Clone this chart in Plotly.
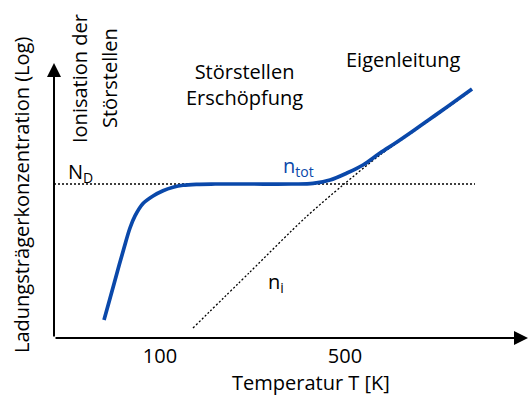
import plotly.graph_objects as go

# Schematic: carrier concentration (log) versus temperature.
# Horizontal / vertical values are in arbitrary schematic units (0..10).

# total carrier concentration n_tot
t_tot = [1.055, 1.181, 1.329, 1.477, 1.603, 1.709, 1.878, 2.089, 2.300, 2.511,
         2.722, 3.017, 3.397, 4.135, 5.000, 5.464, 5.823, 6.181, 6.519, 6.878,
         7.236, 7.574, 7.932, 8.291, 8.819]
n_tot = [0.655, 1.436, 2.364, 3.273, 4.000, 4.440, 4.891, 5.164, 5.356, 5.480,
         5.553, 5.589, 5.600, 5.600, 5.600, 5.620, 5.745, 6.000, 6.291, 6.727,
         7.127, 7.527, 7.964, 8.400, 9.055]

# intrinsic concentration n_i
t_i = [2.932, 4.135, 5.295, 6.097, 6.878, 7.574, 8.291, 8.819]
n_i = [0.364, 2.400, 4.364, 5.564, 6.655, 7.491, 8.364, 9.018]

# donor concentration N_D
t_d = [0.0, 8.882]
n_d = [5.6, 5.6]

# temperature ticks
tick_pos = [2.236, 6.139]
tick_labels = ["100", "500"]

FONT = "Open Sans"
BLUE = "#0a48aa"
FS = 20

# plot area in pixels (for placing texts in paper coordinates)
L, R, T, B = 54, 528, 63, 338
PW, PH = R - L, B - T

fig = go.Figure()

fig.add_trace(go.Scatter(x=t_d, y=n_d, mode="lines",
                         line=dict(color="black", width=1.3, dash="2px,2px"),
                         hoverinfo="skip", showlegend=False))
fig.add_trace(go.Scatter(x=t_i, y=n_i, mode="lines",
                         line=dict(color="black", width=1.3, dash="2px,2px",
                                   shape="spline", smoothing=0.8),
                         hoverinfo="skip", showlegend=False))
fig.add_trace(go.Scatter(x=t_tot, y=n_tot, mode="lines",
                         line=dict(color=BLUE, width=3.7, shape="spline",
                                   smoothing=1.0),
                         hoverinfo="skip", showlegend=False))

annotations = []

# axes drawn as arrows
annotations.append(dict(x=10, y=0, ax=0, ay=0, xref="x", yref="y",
                        axref="x", ayref="y", text="", showarrow=True,
                        arrowhead=2, arrowsize=1.4, arrowwidth=2,
                        arrowcolor="black"))
annotations.append(dict(x=0, y=10, ax=0, ay=0, xref="x", yref="y",
                        axref="x", ayref="y", text="", showarrow=True,
                        arrowhead=2, arrowsize=1.4, arrowwidth=2,
                        arrowcolor="black"))


def label(px, py, text, color="black", angle=0, size=FS):
    """Place a text centred at a pixel position of the figure."""
    annotations.append(dict(x=(px - L) / PW, y=(B - py) / PH,
                            xref="paper", yref="paper", text=text,
                            showarrow=False, textangle=angle,
                            font=dict(family=FONT, size=size, color=color),
                            xanchor="center", yanchor="middle"))


label(80, 172, "N<sub>D</sub>")
label(298, 166, "n<sub>tot</sub>", color=BLUE)
label(276, 282, "n<sub>i</sub>")
label(244, 85, "Störstellen<br>Erschöpfung")
label(403, 60, "Eigenleitung")
label(79, 79, "Ionisation der", angle=-90)
label(109, 78, "Störstellen", angle=-90)
label(311, 382, "Temperatur T [K]")
label(21, 195, "Ladungsträgerkonzentration (Log)", angle=-90)

fig.update_layout(
    width=530, height=396,
    margin=dict(l=L, r=530 - R, t=T, b=396 - B),
    paper_bgcolor="white", plot_bgcolor="white",
    annotations=annotations,
    xaxis=dict(range=[0, 10], showgrid=False, zeroline=False, showline=False,
               tickvals=tick_pos, ticktext=tick_labels, ticks="",
               ticklabelstandoff=4,
               tickfont=dict(family=FONT, size=FS, color="black")),
    yaxis=dict(range=[0, 10], showgrid=False, zeroline=False, showline=False,
               showticklabels=False, ticks=""),
)

fig.write_html("out.html")
